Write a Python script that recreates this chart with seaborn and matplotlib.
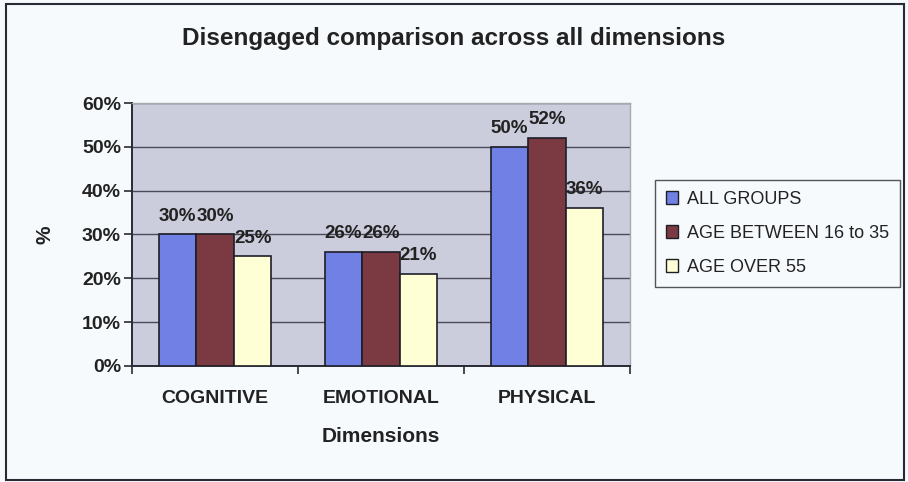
import matplotlib
matplotlib.use("Agg")
import matplotlib.pyplot as plt
from matplotlib.patches import Rectangle
from matplotlib.ticker import PercentFormatter, MultipleLocator
import seaborn as sns
import pandas as pd

# Data
dimensions = ["COGNITIVE", "EMOTIONAL", "PHYSICAL"]
groups = ["ALL GROUPS", "AGE BETWEEN 16 to 35", "AGE OVER 55"]
all_groups = [30, 26, 50]
age_16_35 = [30, 26, 52]
age_over_55 = [25, 21, 36]

df = pd.DataFrame({
    "Dimension": dimensions * 3,
    "Group": [groups[0]] * 3 + [groups[1]] * 3 + [groups[2]] * 3,
    "Value": all_groups + age_16_35 + age_over_55,
})

colors = ["#7080E4", "#7B3A42", "#FFFFD6"]

sns.set_theme(style="white")
plt.rcParams["font.family"] = ["Liberation Sans", "DejaVu Sans"]

fig = plt.figure(figsize=(9.08, 4.82), dpi=100)
fig.patch.set_facecolor("#F7FAFC")
ax = fig.add_axes([0.1454, 0.2407, 0.5484, 0.5456])
ax.set_facecolor("#CBCCDC")

sns.barplot(data=df, x="Dimension", y="Value", hue="Group", hue_order=groups,
            palette=colors, width=0.68, edgecolor="#1E1E28", linewidth=1.2,
            saturation=1, ax=ax, zorder=3)

ax.set_ylim(0, 60)
ax.set_xlim(-0.5, 2.5)
ax.yaxis.set_major_locator(MultipleLocator(10))
ax.yaxis.set_major_formatter(PercentFormatter(decimals=0))
ax.grid(axis="y", color="#4A4A58", linewidth=1.0, zorder=0)
ax.set_axisbelow(True)

for container in ax.containers:
    ax.bar_label(container, fmt="%d%%", padding=7, fontsize=13.5,
                 fontweight="bold", color="#222222", zorder=5)

for side in ["left", "bottom"]:
    ax.spines[side].set_color("#2A2A34")
    ax.spines[side].set_linewidth(1.4)
for side in ["top", "right"]:
    ax.spines[side].set_color("#A8A8B0")
    ax.spines[side].set_linewidth(1.0)

# category-boundary ticks on the x axis
ax.set_xticks([0, 1, 2])
ax.set_xticks([-0.5, 0.5, 1.5, 2.5], minor=True)
ax.tick_params(axis="x", which="major", length=0, pad=17, labelsize=14,
               labelcolor="#222222")
ax.tick_params(axis="x", which="minor", length=6, width=1.2, color="#2A2A34",
               direction="out", bottom=True)
ax.tick_params(axis="y", length=6, width=1.2, color="#2A2A34", direction="out",
               left=True, labelsize=14, labelcolor="#222222", pad=2)
for lbl in ax.get_xticklabels() + ax.get_yticklabels():
    lbl.set_fontweight("bold")

ax.set_xlabel("Dimensions", fontsize=15, fontweight="bold", color="#222222",
              labelpad=15)
ax.set_ylabel("%", fontsize=15, fontweight="bold", color="#222222", labelpad=20)

leg = ax.legend(loc="upper left", bbox_to_anchor=(655 / 908, 1 - 180 / 482),
                bbox_transform=fig.transFigure, frameon=True, fancybox=False,
                fontsize=13, handlelength=0.7, handleheight=0.7,
                handletextpad=0.45, labelspacing=0.95, borderpad=0.6,
                borderaxespad=0)
leg.get_frame().set_edgecolor("#2A2A34")
leg.get_frame().set_linewidth(1.0)
leg.get_frame().set_facecolor("#F7FAFC")
for h in leg.legend_handles:
    h.set_edgecolor("#1E1E28")
    h.set_linewidth(1.0)
for t in leg.get_texts():
    t.set_color("#222222")

fig.text(0.5, 1 - 38 / 482, "Disengaged comparison across all dimensions",
         ha="center", va="center", fontsize=17.5, fontweight="bold",
         color="#222222")

# outer chart border
fig.patches.append(Rectangle((6 / 908, 2 / 482), 898 / 908, 476 / 482,
                             transform=fig.transFigure, fill=False,
                             edgecolor="#2A2A34", linewidth=1.5))

fig.savefig("out.png", dpi=100, facecolor=fig.get_facecolor())
